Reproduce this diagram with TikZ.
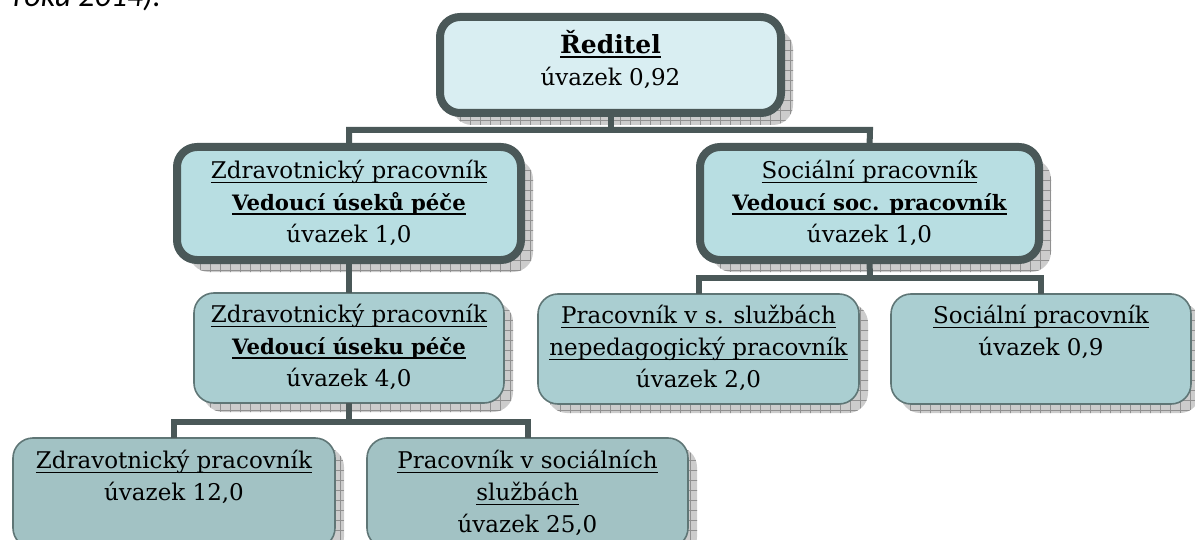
\documentclass[tikz,border=0pt]{standalone}
\usepackage{fontspec}
\setmainfont{DejaVu Serif}
\newfontfamily\fragfont{Carlito}
\usetikzlibrary{patterns.meta}
\definecolor{bordc}{HTML}{4A5858}
\definecolor{thinbord}{HTML}{5F7676}
\definecolor{topfill}{HTML}{D9EEF2}
\definecolor{lvtwo}{HTML}{B8DEE2}
\definecolor{lvthree}{HTML}{AACED1}
\definecolor{lvfour}{HTML}{A2C2C4}
\definecolor{shadfill}{HTML}{CCCCCC}
\definecolor{shadline}{HTML}{909090}
\newcommand\topstrut{\rule{0pt}{12pt}}
\newcommand\myul[2][0.8pt]{\setbox0\hbox{#2}\rlap{\rule[-2.4pt]{\wd0}{#1}}\box0}
\newcommand\bl[1]{{\fontsize{10.6}{16}\selectfont\bfseries #1}}
\tikzset{
  shadowed/.style={
    preaction={draw=none, fill=shadfill, transform canvas={xshift=#1, yshift=-#1}},
    preaction={draw=none, pattern={Lines[angle=0,distance=5pt,line width=0.3pt]}, pattern color=shadline, transform canvas={xshift=#1, yshift=-#1}},
    preaction={draw=none, pattern={Lines[angle=90,distance=5pt,line width=0.3pt]}, pattern color=shadline, transform canvas={xshift=#1, yshift=-#1}}},
  thickbox/.style={draw=bordc, line width=4pt, rounded corners=10pt, outer sep=0pt, inner sep=0pt, shadowed=6pt},
  thinbox/.style={draw=thinbord, line width=0.8pt, rounded corners=10pt, outer sep=0pt, inner sep=0pt, shadowed=4.5pt},
  txt/.style={anchor=north, inner sep=0pt, align=center, font=\fontsize{11.5}{16}\selectfont},
  conn/.style={draw=bordc, line width=3pt, line join=miter}
}
\begin{document}
\begin{tikzpicture}[x=0.5pt, y=-0.5pt]
\useasboundingbox (0,0) rectangle (1195,540);
\node[anchor=base west, inner sep=0pt, font=\fragfont\itshape\fontsize{16}{18}\selectfont] (frag) at (13,7) {roku 2014).};
% boxes
\node[thickbox, fill=topfill, minimum width=170.5pt, minimum height=48pt] (top) at (610.5,65) {};
\node[thickbox, fill=lvtwo, minimum width=172pt, minimum height=56.5pt] (l2a) at (349,203.5) {};
\node[thickbox, fill=lvtwo, minimum width=169.5pt, minimum height=56.5pt] (l2b) at (869.5,203.5) {};
\node[thinbox, fill=lvthree, minimum width=155pt, minimum height=55pt] (mid) at (349,348) {};
\node[thinbox, fill=lvthree, minimum width=160.5pt, minimum height=55pt] (pa) at (698.5,349) {};
\node[thinbox, fill=lvthree, minimum width=150pt, minimum height=55pt] (sb) at (1041,349) {};
\node[thinbox, fill=lvfour, minimum width=161pt, minimum height=55pt] (bl) at (174,493) {};
\node[thinbox, fill=lvfour, minimum width=160.5pt, minimum height=55pt] (br) at (527.5,493) {};
% texts
\node[txt] (ttop) at ([yshift=-6pt]top.north) {\topstrut\myul[1.2pt]{{\fontsize{12.5}{16}\selectfont\bfseries Ředitel}}\\úvazek 0,92};
\node[txt] (tl2a) at ([yshift=-3.5pt]l2a.north) {\topstrut\myul{Zdravotnický pracovník}\\\myul[1.2pt]{\bl{Vedoucí úseků péče}}\\úvazek 1,0};
\node[txt] (tl2b) at ([yshift=-3.5pt]l2b.north) {\topstrut\myul{Sociální pracovník}\\\myul[1.2pt]{\bl{Vedoucí soc. pracovník}}\\úvazek 1,0};
\node[txt] (tmid) at ([yshift=-2.5pt]mid.north) {\topstrut\myul{Zdravotnický pracovník}\\\myul[1.2pt]{\bl{Vedoucí úseku péče}}\\úvazek 4,0};
\node[txt] (tpa) at ([yshift=-2.5pt]pa.north) {\topstrut\myul{Pracovník v s. službách}\\\myul{nepedagogický pracovník}\\úvazek 2,0};
\node[txt] (tsb) at ([yshift=-2.5pt]sb.north) {\topstrut\myul{Sociální pracovník}\\úvazek 0,9};
\node[txt] (tbl) at ([yshift=-3pt]bl.north) {\topstrut\myul{Zdravotnický pracovník}\\úvazek 12,0};
\node[txt] (tbr) at ([yshift=-3pt]br.north) {\topstrut\myul{Pracovník v sociálních}\\\myul{službách}\\úvazek 25,0};
% junctions
\coordinate (h1) at (870,130);
\coordinate (j2) at (870,278);
\coordinate (j3) at (349,422);
% connectors
\draw[conn] (top.south) -- (top.south |- h1);
\draw[conn] (l2a.north) |- (h1) -- (l2b.north);
\draw[conn] (l2b.south) -- (j2);
\draw[conn] (pa.north) |- (j2) -| (sb.north);
\draw[conn] (l2a.south) -- (mid.north);
\draw[conn] (mid.south) -- (j3);
\draw[conn] (bl.north) |- (j3) -| (br.north);
\end{tikzpicture}
\end{document}
